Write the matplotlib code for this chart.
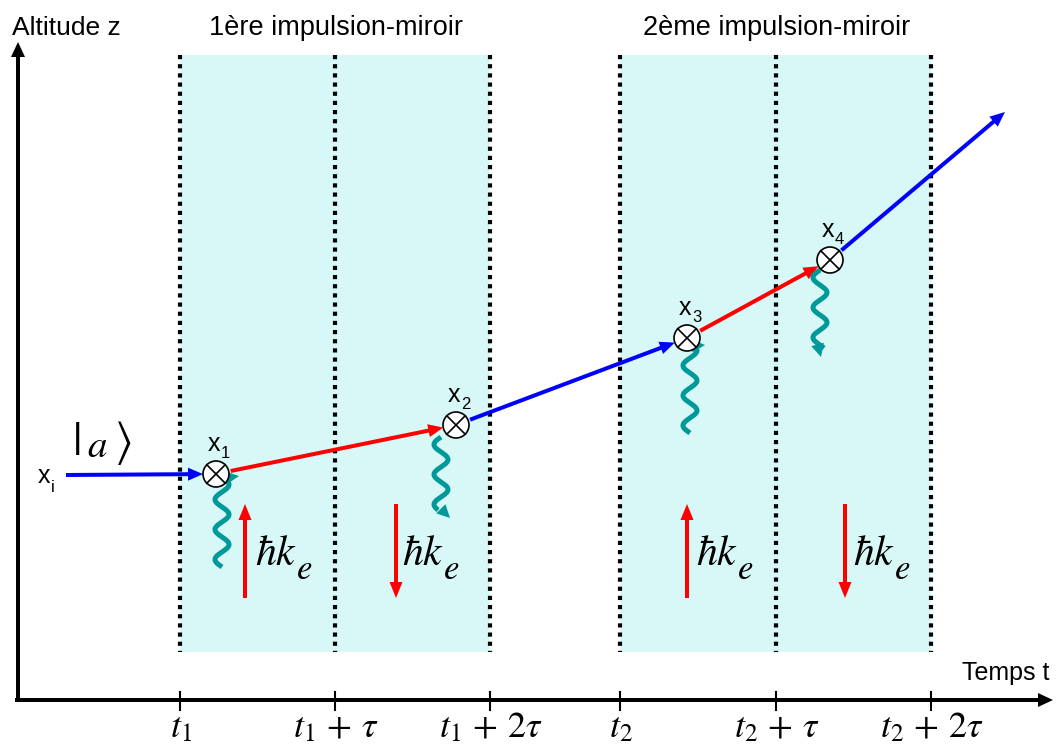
import numpy as np
import matplotlib
matplotlib.use('Agg')
import matplotlib.pyplot as plt
from matplotlib.patches import Circle, Rectangle

plt.rcParams['font.family'] = ['Liberation Sans', 'DejaVu Sans']
plt.rcParams['mathtext.fontset'] = 'stix'

# temps des impulsions (abscisses des pointillés)
pulse_t = [180, 335, 490, 620, 776, 931]
tick_labels = [r'$t_1$', r'$t_1\,+\,\tau$', r'$t_1\,+\,2\tau$',
               r'$t_2$', r'$t_2\,+\,\tau$', r'$t_2\,+\,2\tau$']
pulse_titles = ['1ère impulsion-miroir', '2ème impulsion-miroir']

# trajectoire : point initial, vertex x1..x4, point final
start_t, start_z = 66, 475
vertex_t = [216, 456, 687, 830]
vertex_z = [474, 425, 338, 260]
vertex_names = ['1', '2', '3', '4']
end_t, end_z = 1005, 112
seg_colors = ['blue', 'red', 'blue', 'red', 'blue']

# photons (ondes) : centre, début, fin
wave_t = [222, 441, 690, 820]
wave_from = [567, 437, 433, 270]
wave_to = [482, 510, 345, 348]
wave_head = [(225, 478, 14, -2), (440, 508, 10, 10), (690, 346, 15, -1), (818, 346, 3, 11)]

# impulsions transférées hbar k_e
kick_t = [245, 396, 687, 845]
kick_dir = ['up', 'down', 'up', 'down']
kick_label_t = [255, 402, 696, 853]

teal = '#009999'

fig = plt.figure(figsize=(10.56, 7.55), dpi=100)
ax = fig.add_axes([0, 0, 1, 1])
ax.set_xlim(0, 1056)
ax.set_ylim(755, 0)
ax.axis('off')

# zones des impulsions
for i in range(2):
    a, b = pulse_t[3 * i], pulse_t[3 * i + 2]
    ax.add_patch(Rectangle((a, 55), b - a, 597, fc='#d8f7f7', ec='none', zorder=0))
    ax.text((a + b) / 2 + 1, 35, pulse_titles[i], fontsize=19.5, ha='center', va='baseline')

for t in pulse_t:
    ax.plot([t, t], [55, 652], color='black', lw=3, ls=(0, (1, 1.2)), zorder=1)

# axes
ax.arrow(18, 702, 0, -660, width=4, head_width=14, head_length=15,
         length_includes_head=True, color='black', lw=0)
ax.arrow(15, 700, 1038, 0, width=4, head_width=14, head_length=15,
         length_includes_head=True, color='black', lw=0)
ax.text(12, 35, 'Altitude z', fontsize=19, ha='left', va='baseline')
ax.text(1049, 680, 'Temps t', fontsize=18, ha='right', va='baseline')

for t, lab in zip(pulse_t, tick_labels):
    ax.plot([t, t], [692, 710], color='black', lw=1.5)
    ax.text(t + 1, 737, lab, fontsize=26, ha='center', va='baseline')

# trajectoire
pts_t = [start_t] + vertex_t + [end_t]
pts_z = [start_z] + vertex_z + [end_z]
r = 13
for k in range(len(pts_t) - 1):
    p = np.array([pts_t[k], pts_z[k]], float)
    q = np.array([pts_t[k + 1], pts_z[k + 1]], float)
    u = (q - p) / np.hypot(*(q - p))
    if 0 < k:
        p = p + u * (r + 2)
    if k < len(vertex_t):
        q = q - u * r
    ax.arrow(p[0], p[1], *(q - p), width=4, head_width=13, head_length=15,
             length_includes_head=True, color=seg_colors[k], lw=0, zorder=3)

for t, z, name in zip(vertex_t, vertex_z, vertex_names):
    ax.add_patch(Circle((t, z), r, fc='white', ec='black', lw=1.2, zorder=5))
    d = r / np.sqrt(2)
    ax.plot([t - d, t + d], [z - d, z + d], color='black', lw=1.2, zorder=6)
    ax.plot([t - d, t + d], [z + d, z - d], color='black', lw=1.2, zorder=6)
    ax.text(t - 8, z - 23, 'x', fontsize=18, ha='left', va='baseline')
    ax.text(t + 5, z - 16, name, fontsize=12, ha='left', va='baseline')

ax.text(38, 483, 'x', fontsize=18, ha='left', va='baseline')
ax.text(51, 492, 'i', fontsize=12, ha='left', va='baseline')
# |a>
ax.text(76, 443, r'$|$', fontsize=34, ha='center', va='center')
ax.text(97, 457, r'$a$', fontsize=28, ha='center', va='baseline')
ax.text(123, 443, r'$\rangle$', fontsize=34, ha='center', va='center')

# photons
for cx, y0, y1, head in zip(wave_t, wave_from, wave_to, wave_head):
    y = np.linspace(y0, y1, 200)
    x = cx + 7 * np.sin(2 * np.pi * (y - y0) / 30 * np.sign(y0 - y1))
    ax.plot(x, y, color=teal, lw=3.6, solid_capstyle='butt', zorder=4)
    hx, hy, dx, dy = head
    ax.arrow(hx, hy, dx, dy, width=0, head_width=13, head_length=13,
             length_includes_head=True, color=teal, lw=0, zorder=4)

for t, d, lt in zip(kick_t, kick_dir, kick_label_t):
    if d == 'up':
        ax.arrow(t, 598, 0, -94, width=4, head_width=13, head_length=16,
                 length_includes_head=True, color='red', lw=0)
    else:
        ax.arrow(t, 504, 0, 94, width=4, head_width=13, head_length=16,
                 length_includes_head=True, color='red', lw=0)
    ax.text(lt, 565, r'$\hbar k$', fontsize=30, ha='left', va='baseline')
    ax.text(lt + 41, 579, r'$e$', fontsize=25, ha='left', va='baseline')

fig.savefig('out.png', dpi=100)
